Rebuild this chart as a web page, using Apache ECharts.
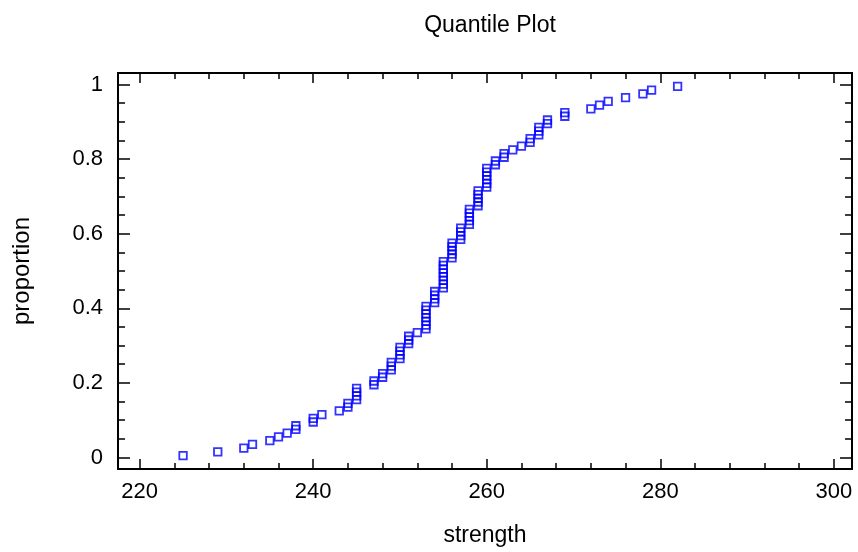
<!DOCTYPE html>
<html><head><meta charset="utf-8">
<script src="https://cdn.jsdelivr.net/npm/echarts@6/dist/echarts.min.js"></script>
<style>html,body{margin:0;padding:0;background:#fff}#c{width:858px;height:552px}</style>
</head><body><div id="c"></div>
<script>
// strength values at each distinct level and how many observations share it
const strengthLevels = [225,229,232,233,235,236,237,238,240,241,243,244,245,247,248,249,250,251,252,253,254,255,256,257,258,259,260,261,262,263,264,265,266,267,269,272,273,274,276,278,279,282];
const levelCounts    = [1,1,1,1,1,1,1,2,2,1,1,2,4,2,2,3,4,3,1,7,4,8,5,4,5,5,6,2,2,1,1,2,3,2,2,1,1,1,1,1,1,1];
const xMajorTicks = [220,240,260,280,300];
const xMinorTicks = [220,224,228,232,236,240,244,248,252,256,260,264,268,272,276,280,284,288,292,296,300];
const yMajorTicks = [0,0.2,0.4,0.6,0.8,1];
const yMinorTicks = [0,0.05,0.1,0.15,0.2,0.25,0.3,0.35,0.4,0.45,0.5,0.55,0.6,0.65,0.7,0.75,0.8,0.85,0.9,0.95,1];

// sorted sample, proportion (i-0.5)/n
const sorted = [];
strengthLevels.forEach((v,k)=>{ for(let j=0;j<levelCounts[k];j++) sorted.push(v); });
const n = sorted.length;
const points = sorted.map((v,i)=>[v,(i+0.5)/n]);

const FONT = 'Liberation Sans, Arial, sans-serif';
const XMIN = 217.5, XMAX = 302.1, YMIN = -0.031, YMAX = 1.031;
const lineStyle = {color:'#000', width:2};
function xAx(pos, ticks, len, labels){
  return {type:'value', position:pos, min:XMIN, max:XMAX,
    axisLine:{show:true, onZero:false, lineStyle},
    axisTick:{show:true, inside:true, length:len, customValues:ticks, lineStyle:{color:'#000',width:1.5}},
    axisLabel:labels ? {show:true, customValues:xMajorTicks, margin:12, color:'#000', fontSize:22, fontFamily:FONT, formatter:v=>String(v)} : {show:false},
    splitLine:{show:false}, name: labels?'strength':'', nameLocation:'middle', nameGap:55,
    nameTextStyle:{color:'#000', fontSize:23, fontFamily:FONT}};
}
function yAx(pos, ticks, len, labels){
  return {type:'value', position:pos, min:YMIN, max:YMAX,
    axisLine:{show:true, onZero:false, lineStyle},
    axisTick:{show:true, inside:true, length:len, customValues:ticks, lineStyle:{color:'#000',width:1.5}},
    axisLabel:labels ? {show:true, customValues:yMajorTicks, margin:15, color:'#000', fontSize:22, fontFamily:FONT, formatter:v=>String(+v.toFixed(2))} : {show:false},
    splitLine:{show:false}, name: labels?'proportion':'', nameLocation:'middle', nameGap:84, nameRotate:90,
    nameTextStyle:{color:'#000', fontSize:24, fontFamily:FONT}};
}
const chart = echarts.init(document.getElementById('c'), null, {renderer:'canvas'});
chart.setOption({
  backgroundColor:'#fff',
  animation:false,
  title:{text:'Quantile Plot', left:485, top:9, textAlign:'center',
    textStyle:{color:'#000', fontSize:23, fontWeight:'normal', fontFamily:FONT}},
  grid:{left:118, right:6, top:73, bottom:79, containLabel:false},
  xAxis:[xAx('bottom',xMajorTicks,10,true), xAx('bottom',xMinorTicks,6,false),
         xAx('top',xMajorTicks,10,false), xAx('top',xMinorTicks,6,false)],
  yAxis:[yAx('left',yMajorTicks,12,true), yAx('left',yMinorTicks,7,false),
         yAx('right',yMajorTicks,12,false), yAx('right',yMinorTicks,7,false)],
  series:[{type:'scatter', xAxisIndex:0, yAxisIndex:0, data:points,
    symbol:'rect', symbolSize:7.5,
    itemStyle:{color:'rgba(0,0,0,0)', borderColor:'#0000ff', borderWidth:1.8}}]
});
</script></body></html>
